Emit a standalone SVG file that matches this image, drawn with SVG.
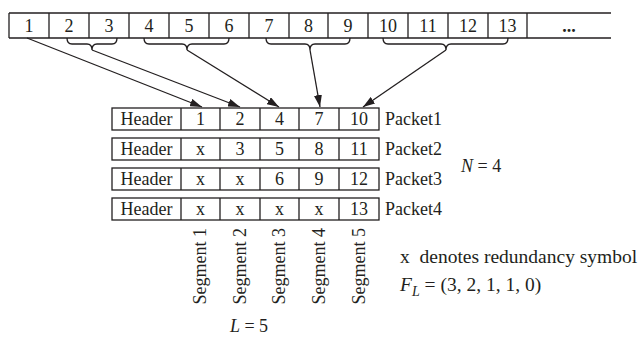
<svg xmlns="http://www.w3.org/2000/svg" width="639" height="337" viewBox="0 0 639 337">
<defs>
<style>
text{font-family:"Liberation Serif","Times New Roman",serif;font-size:18px;fill:#231f20}
.c{text-anchor:middle}
.box{fill:#fff;stroke:#231f20;stroke-width:1.3}
.ln{stroke:#231f20;stroke-width:1.3;fill:none}
.it{font-style:italic}
.big{font-size:19.5px}
</style>
<marker id="ah" viewBox="0 0 12 8" refX="12" refY="4" markerWidth="12" markerHeight="8" markerUnits="userSpaceOnUse" orient="auto">
<path d="M0,0 L12,4 L0,8 Z" fill="#231f20"/>
</marker>
</defs>
<rect width="639" height="337" fill="#fff"/>
<g id="stream">
<path class="ln" d="M9,13 H611 M9,38 H611 M9,13 V38 M49,13 V38 M89,13 V38 M129,13 V38 M169,13 V38 M209,13 V38 M249,13 V38 M289,13 V38 M328,13 V38 M368,13 V38 M408,13 V38 M448,13 V38 M488,13 V38 M527,13 V38"/>
<text class="c" x="29" y="32">1</text>
<text class="c" x="69" y="32">2</text>
<text class="c" x="109" y="32">3</text>
<text class="c" x="149" y="32">4</text>
<text class="c" x="189" y="32">5</text>
<text class="c" x="229" y="32">6</text>
<text class="c" x="269" y="32">7</text>
<text class="c" x="308.5" y="32">8</text>
<text class="c" x="348" y="32">9</text>
<text class="c" x="388" y="32">10</text>
<text class="c" x="428" y="32">11</text>
<text class="c" x="468" y="32">12</text>
<text class="c" x="507.5" y="32">13</text>
<text class="c" x="569" y="32" font-weight="bold">...</text>
</g>
<g id="connectors">
<path class="ln" d="M67,38 Q67,44 72,44 H87 Q92,44 92,50 Q92,44 97,44 H112 Q117,44 117,38"/>
<path class="ln" d="M144,38 Q144,44 149,44 H182 Q187,44 187,50 Q187,44 192,44 H224 Q229,44 229,38"/>
<path class="ln" d="M266,38 Q266,44 271,44 H305 Q310,44 310,50 Q310,44 315,44 H345 Q350,44 350,38"/>
<path class="ln" d="M383,38 Q383,44 388,44 H441 Q446,44 446,50 Q446,44 451,44 H503 Q508,44 508,38"/>
<line class="ln" x1="27" y1="38" x2="202" y2="107" marker-end="url(#ah)"/>
<line class="ln" x1="92" y1="50" x2="240" y2="107" marker-end="url(#ah)"/>
<line class="ln" x1="187" y1="50" x2="279" y2="107" marker-end="url(#ah)"/>
<line class="ln" x1="310" y1="50" x2="320" y2="107" marker-end="url(#ah)"/>
<line class="ln" x1="446" y1="50" x2="363" y2="107" marker-end="url(#ah)"/>
</g>
<g id="packet1">
<rect class="box" x="112" y="108" width="267" height="22"/>
<path class="ln" d="M181,108 V130 M220,108 V130 M260,108 V130 M299,108 V130 M339,108 V130"/>
<text class="c" x="146.5" y="125">Header</text>
<text class="c" x="200.5" y="125">1</text>
<text class="c" x="240" y="125">2</text>
<text class="c" x="279.5" y="125">4</text>
<text class="c" x="319" y="125">7</text>
<text class="c" x="359" y="125">10</text>
<text x="385" y="125">Packet1</text>
</g>
<g id="packet2">
<rect class="box" x="112" y="138" width="267" height="22"/>
<path class="ln" d="M181,138 V160 M220,138 V160 M260,138 V160 M299,138 V160 M339,138 V160"/>
<text class="c" x="146.5" y="155">Header</text>
<text class="c" x="200.5" y="155">x</text>
<text class="c" x="240" y="155">3</text>
<text class="c" x="279.5" y="155">5</text>
<text class="c" x="319" y="155">8</text>
<text class="c" x="359" y="155">11</text>
<text x="385" y="155">Packet2</text>
</g>
<g id="packet3">
<rect class="box" x="112" y="168" width="267" height="22"/>
<path class="ln" d="M181,168 V190 M220,168 V190 M260,168 V190 M299,168 V190 M339,168 V190"/>
<text class="c" x="146.5" y="185">Header</text>
<text class="c" x="200.5" y="185">x</text>
<text class="c" x="240" y="185">x</text>
<text class="c" x="279.5" y="185">6</text>
<text class="c" x="319" y="185">9</text>
<text class="c" x="359" y="185">12</text>
<text x="385" y="185">Packet3</text>
</g>
<g id="packet4">
<rect class="box" x="112" y="198" width="267" height="22"/>
<path class="ln" d="M181,198 V220 M220,198 V220 M260,198 V220 M299,198 V220 M339,198 V220"/>
<text class="c" x="146.5" y="215">Header</text>
<text class="c" x="200.5" y="215">x</text>
<text class="c" x="240" y="215">x</text>
<text class="c" x="279.5" y="215">x</text>
<text class="c" x="319" y="215">x</text>
<text class="c" x="359" y="215">13</text>
<text x="385" y="215">Packet4</text>
</g>
<g id="labels">
<text x="461" y="172"><tspan class="it">N</tspan> = 4</text>
<text transform="translate(206,228) rotate(-90)" text-anchor="end">Segment 1</text>
<text transform="translate(245.5,228) rotate(-90)" text-anchor="end">Segment 2</text>
<text transform="translate(285,228) rotate(-90)" text-anchor="end">Segment 3</text>
<text transform="translate(324.5,228) rotate(-90)" text-anchor="end">Segment 4</text>
<text transform="translate(364.5,228) rotate(-90)" text-anchor="end">Segment 5</text>
<text class="c" x="249" y="332"><tspan class="it">L</tspan> = 5</text>
<text class="big" x="400" y="263">x&#160; denotes redundancy symbol</text>
<text class="big" x="400" y="291"><tspan class="it">F</tspan><tspan class="it" font-size="14" dy="5">L</tspan><tspan dy="-5"> = (3, 2, 1, 1, 0)</tspan></text>
</g>
</svg>
